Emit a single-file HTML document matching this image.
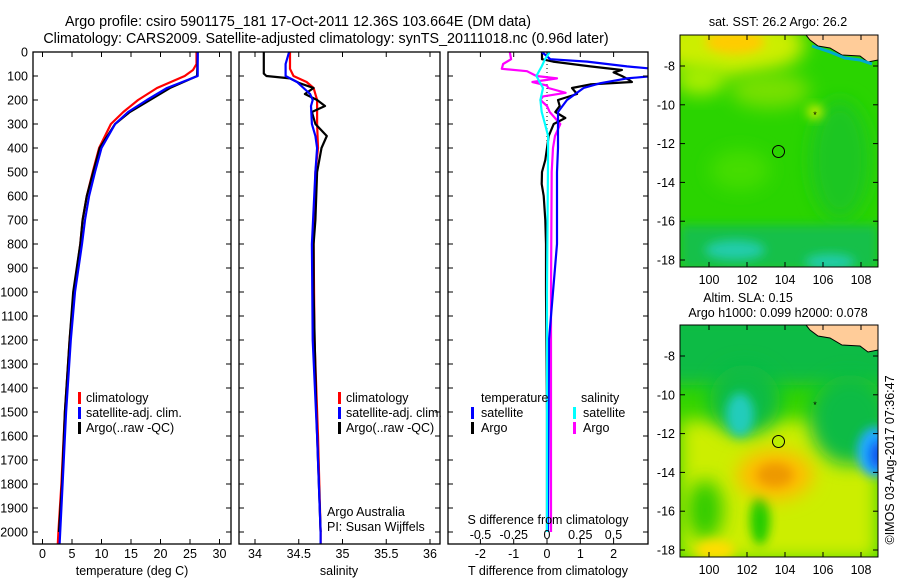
<!DOCTYPE html>
<html><head><meta charset="utf-8"><style>
body{margin:0;background:#fff;width:900px;height:580px;overflow:hidden}
svg{display:block;font-family:"Liberation Sans",sans-serif}
text{font-size:12.5px;fill:#000}
</style></head><body>
<svg id="fig" width="900" height="580" viewBox="0 0 900 580">
<defs>
<filter id="bl" x="-50%" y="-50%" width="200%" height="200%"><feGaussianBlur stdDeviation="9"/></filter>
<filter id="bl2" x="-50%" y="-50%" width="200%" height="200%"><feGaussianBlur stdDeviation="5"/></filter>
<clipPath id="c1"><rect x="448" y="52" width="200" height="492"/></clipPath>
<clipPath id="m1c"><rect x="680" y="35" width="198" height="232"/></clipPath>
<clipPath id="m2c"><rect x="680" y="325" width="198" height="232"/></clipPath>
</defs>
<text x="298" y="26" text-anchor="middle" style="font-size:14.3px">Argo profile: csiro 5901175_181 17-Oct-2011 12.36S 103.664E (DM data)</text>
<text x="326" y="43" text-anchor="middle" style="font-size:14.3px">Climatology: CARS2009. Satellite-adjusted climatology: synTS_20111018.nc (0.96d later)</text>

<g id="p1"></g>
<g id="p2"></g>
<g id="p3"></g>

<!-- map 1 -->
<g>
<text x="778" y="26" text-anchor="middle">sat. SST: 26.2 Argo: 26.2</text>
<g clip-path="url(#m1c)">
<rect x="680" y="35" width="198" height="232" fill="#2ad400"/>
<ellipse cx="730" cy="45" rx="75" ry="32" fill="#ccee00" filter="url(#bl)"/>
<ellipse cx="735" cy="42" rx="30" ry="12" fill="#ffcc00" filter="url(#bl2)"/>
<ellipse cx="700" cy="80" rx="25" ry="15" fill="#aaee00" filter="url(#bl)"/>
<ellipse cx="770" cy="90" rx="40" ry="18" fill="#77e000" filter="url(#bl)"/>
<ellipse cx="840" cy="160" rx="30" ry="60" fill="#1ec622" filter="url(#bl)"/>
<ellipse cx="740" cy="170" rx="30" ry="20" fill="#44dd00" filter="url(#bl)"/>
<rect x="680" y="225" width="198" height="45" fill="#16c04a" filter="url(#bl2)"/>
<ellipse cx="735" cy="250" rx="30" ry="10" fill="#22ccaa" filter="url(#bl2)"/>
<ellipse cx="830" cy="262" rx="25" ry="8" fill="#22ccaa" filter="url(#bl2)"/>
<ellipse cx="815" cy="112" rx="8" ry="7" fill="#ccee00" filter="url(#bl2)"/>
<path d="M806,35 L878,35 L878,60 L868,62 L860,56 L842,55 L830,48 L818,46 L810,40 Z" fill="#ffcc99" stroke="#000" stroke-width="1"/>
<path d="M812,46 L830,52 L845,58 L860,60 L872,64" fill="none" stroke="#00aacc" stroke-width="3"/>
</g>
<rect x="680" y="35" width="198" height="232" fill="none" stroke="#000"/>
<circle cx="778.5" cy="151.5" r="6" fill="none" stroke="#000"/>
<text x="815" y="118" text-anchor="middle" style="font-size:9px">*</text>
<g id="m1ax"></g>
</g>

<!-- map 2 -->
<g>
<text x="748" y="302" text-anchor="middle">Altim. SLA: 0.15</text>
<text x="778" y="317" text-anchor="middle">Argo h1000: 0.099 h2000: 0.078</text>
<g clip-path="url(#m2c)">
<rect x="680" y="325" width="198" height="232" fill="#33d400"/>
<rect x="680" y="420" width="198" height="140" fill="#ccee00" filter="url(#bl)"/>
<rect x="660" y="310" width="240" height="75" fill="#11bb44" filter="url(#bl)"/>
<ellipse cx="850" cy="420" rx="40" ry="45" fill="#11bb44" filter="url(#bl)"/>
<ellipse cx="705" cy="510" rx="18" ry="30" fill="#33cc00" filter="url(#bl)"/>
<ellipse cx="760" cy="520" rx="10" ry="25" fill="#22cc00" filter="url(#bl2)"/>
<ellipse cx="745" cy="400" rx="35" ry="35" fill="#11bb44" filter="url(#bl)"/>
<ellipse cx="740" cy="415" rx="14" ry="22" fill="#22ccbb" filter="url(#bl2)"/>
<ellipse cx="775" cy="475" rx="38" ry="25" fill="#ffbb00" filter="url(#bl)"/>
<ellipse cx="775" cy="475" rx="18" ry="12" fill="#ee9900" filter="url(#bl2)"/>
<ellipse cx="875" cy="452" rx="18" ry="25" fill="#22aaff" filter="url(#bl2)"/>
<ellipse cx="878" cy="455" rx="8" ry="14" fill="#1155ee" filter="url(#bl2)"/>
<ellipse cx="715" cy="550" rx="20" ry="10" fill="#ffdd00" filter="url(#bl2)"/>
<path d="M806,325 L878,325 L878,350 L868,352 L860,346 L842,345 L830,338 L818,336 L810,330 Z" fill="#ffcc99" stroke="#000" stroke-width="1"/>
</g>
<rect x="680" y="325" width="198" height="232" fill="none" stroke="#000"/>
<circle cx="778.5" cy="441.5" r="6" fill="#bbee00" stroke="#000"/>
<text x="815" y="408" text-anchor="middle" style="font-size:9px">*</text>
<g id="m2ax"></g>
</g>
<text transform="translate(894,460) rotate(-90)" text-anchor="middle">©IMOS 03-Aug-2017 07:36:47</text>
</svg>
<script>
// depth axis data
const depthTicks=[0,100,200,300,400,500,600,700,800,900,1000,1100,1200,1300,1400,1500,1600,1700,1800,1900,2000];
// temperature profiles
const tClimDepth=[0,50,75,100,150,200,250,300,400,500,600,700,800,1000,1200,1500,1800,2000,2050];
const tClim=[26.1,26.1,25.5,24.1,19.4,16.2,13.7,11.6,9.6,8.5,7.5,6.8,6.4,5.3,4.6,3.8,3.2,2.7,2.6];
const tSatDepth=[0,100,150,200,250,300,400,500,600,700,800,1000,1200,1500,1800,2000,2050];
const tSat=[26.3,26.3,21.1,17.7,14.5,12.3,10.0,8.9,7.9,7.2,6.7,5.5,4.8,4.0,3.4,3.0,2.9];
const tArgoDepth=[0,100,150,200,250,300,400,500,600,700,800,1000,1200,1500,1800,2000];
const tArgo=[26.3,26.2,21.6,18.2,14.8,12.3,9.7,8.6,7.5,6.8,6.4,5.2,4.6,3.8,3.3,2.8];
const tempTicks=[0,5,10,15,20,25,30];
// salinity profiles
const sClimDepth=[0,70,100,125,150,200,300,400,500,800,1200,1600,2000,2050];
const sClim=[34.40,34.40,34.44,34.59,34.67,34.71,34.71,34.72,34.69,34.67,34.68,34.72,34.75,34.75];
const sSatDepth=[0,50,100,125,175,200,225,300,350,400,500,800,1200,1600,2000,2050];
const sSat=[34.39,34.35,34.35,34.48,34.63,34.66,34.64,34.65,34.69,34.71,34.69,34.65,34.66,34.71,34.75,34.75];
const sArgoDepth=[0,90,100,110,130,150,175,200,225,250,300,350,400,500,700,800,1000,1500,1800,2000];
const sArgo=[34.10,34.10,34.13,34.40,34.51,34.67,34.57,34.71,34.80,34.65,34.69,34.82,34.76,34.71,34.69,34.67,34.67,34.70,34.73,34.75];
const salTicks=[34,34.5,35,35.5,36];
// differences
const dTSatDepth=[0,30,40,60,70,100,110,130,150,200,250,300,400,500,800,1200,2000];
const dTSat=[-0.15,0.1,1.2,2.4,3.2,3.2,2.4,1.6,1.1,0.6,0.33,0.33,0.33,0.3,0.3,0.06,0.03];
const dTArgoDepth=[0,30,40,60,75,85,100,115,125,135,150,175,200,225,250,275,300,350,450,500,550,600,700,800,1000,1500,2000];
const dTArgo=[-0.15,-0.15,0.18,1.3,2.25,2.0,2.25,2.45,2.55,1.3,0.75,0.9,0.33,0.38,0.25,0.55,0.2,0.05,-0.05,-0.15,-0.16,-0.1,-0.05,-0.03,-0.03,0,0];
const dSArgoDepth=[0,30,50,70,80,100,110,125,140,150,170,185,200,225,250,300,350,400,500,1000,2000];
const dSArgo=[-0.28,-0.27,-0.33,-0.34,-0.15,-0.08,0.075,-0.11,0,0.01,0.14,-0.03,-0.05,0,0.02,0.1,0.06,0.045,0.035,0.03,0.03];
const dSSatDepth=[0,30,60,100,150,200,250,300,350,400,1000,2000];
const dSSat=[0.02,-0.015,-0.04,-0.08,-0.03,-0.05,-0.04,-0.015,0.008,0.008,0,0];
const dTTicks=[-2,-1,0,1,2];
const dSTicks=[-0.5,-0.25,0,0.25,0.5];
const dSTickLabels=["-0.5","-0.25","0","0.25","0.5"];
// map ticks
const latTicks=[-8,-10,-12,-14,-16,-18];
const lonTicks=[100,102,104,106,108];

const NS="http://www.w3.org/2000/svg";
const yD=d=>52+d*0.24;
const xT=t=>42.5+5.9*t;
const xS=s=>255+87.5*(s-34);
const xDT=v=>547+33.3*v;
const xDS=v=>547+133*v;
function mk(tag,attrs,parent,txt){const e=document.createElementNS(NS,tag);for(const k in attrs)e.setAttribute(k,attrs[k]);if(txt!==undefined)e.textContent=txt;parent.appendChild(e);return e;}
function linePts(dep,val,fx){return dep.map((d,i)=>fx(val[i]).toFixed(1)+","+yD(d).toFixed(1)).join(" ");}
function frame(g,x0,x1,yl){
  for(const d of depthTicks){const y=yD(d);
    const a=mk('line',{x1:x0,x2:x0+5,y1:y,y2:y,stroke:'#000'},g);
    
    mk('line',{x1:x1-5,x2:x1,y1:y,y2:y,stroke:'#000'},g);
    if(yl){const t=mk('text',{x:28,y:y+4.5,'text-anchor':'end'},g,String(d));
      }
  }
  const r=mk('rect',{x:x0,y:52,width:x1-x0,height:492,fill:'none',stroke:'#000','stroke-width':1.3},g);
  
}
function series(g,dep,val,fx,col,name,w){
  const l=mk('polyline',{points:linePts(dep,val,fx),fill:'none',stroke:col,'stroke-width':w||2.2,'stroke-linejoin':'round'},g);
  
}
function xticks(g,ticks,fx,labels,ylab){
  ticks.forEach((v,i)=>{const x=fx(v);
    mk('line',{x1:x,x2:x,y1:52,y2:57,stroke:'#000'},g);
    mk('line',{x1:x,x2:x,y1:539,y2:544,stroke:'#000'},g);
    const t=mk('text',{x:x,y:ylab,'text-anchor':'middle'},g,labels?labels[i]:String(v));
    });
}
function legend(g,x,items){
  items.forEach((it,i)=>{const y=398+i*15;
    const r=mk('rect',{x:x,y:y-6,width:3,height:12,fill:it[0]},g);
    
    const t=mk('text',{x:x+8,y:y+4},g,it[1]);
    });
}
// panel 1
const p1=document.getElementById('p1');
xticks(p1,tempTicks,xT,null,558);
series(p1,tClimDepth,tClim,xT,'#f00','temp-climatology-line');
series(p1,tArgoDepth,tArgo,xT,'#000','temp-argo-line');
series(p1,tSatDepth,tSat,xT,'#00f','temp-satellite-line');
frame(p1,33,231,true);
legend(p1,78,[['#f00','climatology'],['#00f','satellite-adj. clim.'],['#000','Argo(..raw -QC)']]);
let t=mk('text',{x:132,y:575,'text-anchor':'middle'},p1,'temperature (deg C)');

// panel 2
const p2=document.getElementById('p2');
xticks(p2,salTicks,xS,null,558);
series(p2,sClimDepth,sClim,xS,'#f00','sal-climatology-line');
series(p2,sArgoDepth,sArgo,xS,'#000','sal-argo-line');
series(p2,sSatDepth,sSat,xS,'#00f','sal-satellite-line');
frame(p2,239,440,false);
legend(p2,338,[['#f00','climatology'],['#00f','satellite-adj. clim.'],['#000','Argo(..raw -QC)']]);
t=mk('text',{x:339,y:575,'text-anchor':'middle'},p2,'salinity');

t=mk('text',{x:327,y:516},p2,'Argo Australia');
t=mk('text',{x:327,y:531},p2,'PI: Susan Wijffels');
// panel 3
const p3=document.getElementById('p3');
xticks(p3,dTTicks,xDT,null,558);
const clip=mk('g',{'clip-path':'url(#c1)'},p3);
const zl=mk('line',{x1:xDT(0),x2:xDT(0),y1:yD(0),y2:yD(420),stroke:'#000','stroke-dasharray':'1,3'},clip);

series(clip,dSArgoDepth,dSArgo,xDS,'#f0f','sdiff-argo-line');
series(clip,dTArgoDepth,dTArgo,xDT,'#000','tdiff-argo-line');
series(clip,dTSatDepth,dTSat,xDT,'#00f','tdiff-satellite-line');
series(clip,dSSatDepth,dSSat,xDS,'#0ff','sdiff-satellite-line');
frame(p3,448,648,false);
dSTicks.forEach((v,i)=>{const tt=mk('text',{x:xDS(v),y:539,'text-anchor':'middle'},p3,dSTickLabels[i]);
  });
t=mk('text',{x:548,y:524,'text-anchor':'middle'},p3,'S difference from climatology');
t=mk('text',{x:548,y:575,'text-anchor':'middle'},p3,'T difference from climatology');
t=mk('text',{x:481,y:402},p3,'temperature');
t=mk('text',{x:581,y:402},p3,'salinity');
[['#00f','satellite',471,413],['#000','Argo',471,428],['#0ff','satellite',573,413],['#f0f','Argo',573,428]].forEach(it=>{
  const r=mk('rect',{x:it[2],y:it[3]-6,width:3,height:12,fill:it[0]},p3);
  
  const tx=mk('text',{x:it[2]+10,y:it[3]+4},p3,it[1]);
  });
// map axes
function mapAxes(id,top,bottom,latY8){
  const g=document.getElementById(id);
  latTicks.forEach(v=>{const y=latY8+(-8-v)*19.4;
    mk('line',{x1:680,x2:685,y1:y,y2:y,stroke:'#000'},g);mk('line',{x1:873,x2:878,y1:y,y2:y,stroke:'#000'},g);
    const tt=mk('text',{x:675,y:y+4.5,'text-anchor':'end'},g,String(v));
    });
  lonTicks.forEach(v=>{const x=709+(v-100)*19;
    mk('line',{x1:x,x2:x,y1:top,y2:top+5,stroke:'#000'},g);mk('line',{x1:x,x2:x,y1:bottom-5,y2:bottom,stroke:'#000'},g);
    const tt=mk('text',{x:x,y:bottom+17,'text-anchor':'middle'},g,String(v));
    });
}
mapAxes('m1ax',35,267,66);
mapAxes('m2ax',325,557,356);
</script>
</body></html>
